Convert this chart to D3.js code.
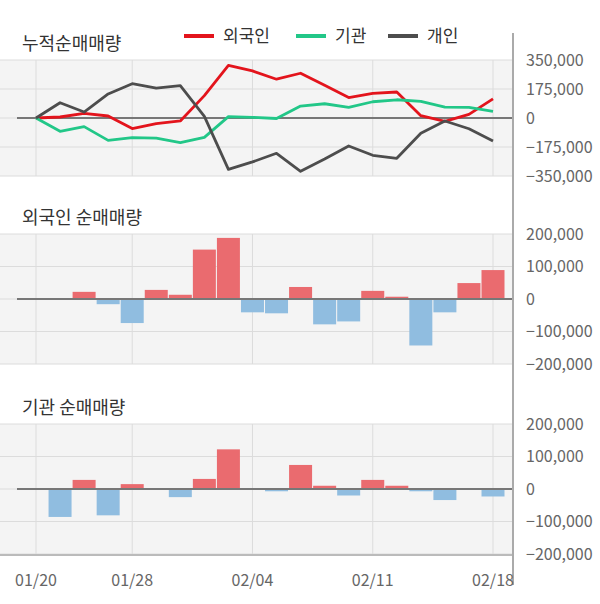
<!DOCTYPE html>
<html>
<head>
<meta charset="utf-8">
<script src="https://cdn.jsdelivr.net/npm/d3@7"></script>
<style>
  body { margin: 0; background: #fff; }
  text { font-family: "Noto Sans CJK KR", "Noto Sans", sans-serif; }
</style>
</head>
<body>
<svg width="600" height="604"></svg>
<script>
// trading days
var dates = ['01/20','01/21','01/22','01/23','01/28','01/29','01/30','01/31','02/03','02/04',
             '02/05','02/06','02/07','02/10','02/11','02/12','02/13','02/14','02/17','02/18'];
var tick_dates = ['01/20','01/28','02/04','02/11','02/18'];

// cumulative net buying (shares)
var cum_foreign = [0, 6000, 28000, 12000, -64000, -34000, -18000, 135000, 318000, 284000,
                   234000, 270000, 197000, 123000, 149000, 157000, 14000, -20000, 22000, 115000];
var cum_inst = [0, -80000, -52000, -135000, -118000, -122000, -149000, -117000, 8000, 4000,
                -3000, 72000, 86000, 64000, 98000, 110000, 100000, 66000, 64000, 40000];
var cum_indiv = [0, 92000, 36000, 145000, 207000, 180000, 195000, 10000, -310000, -265000,
                 -213000, -322000, -248000, -169000, -225000, -243000, -92000, -18000, -65000, -139000];

// daily net buying
var day_foreign = [0, 0, 22000, -16000, -74000, 28000, 13000, 152000, 188000, -41000,
                   -44000, 37000, -78000, -69000, 25000, 7000, -143000, -41000, 49000, 89000];
var day_inst = [0, -86000, 28000, -81000, 15000, 0, -25000, 31000, 122000, 0,
                -7000, 74000, 10000, -20000, 28000, 10000, -7000, -34000, 0, -23000];

var ticks_cum = [350000, 175000, 0, -175000, -350000];
var ticks_day = [200000, 100000, 0, -100000, -200000];

var series = [
    {name: '외국인', color: '#e3141c', values: cum_foreign},
    {name: '기관', color: '#22c788', values: cum_inst},
    {name: '개인', color: '#4d4d4d', values: cum_indiv}
];

var svg = d3.select('svg');
var plot_right = 513;
var fmt = d3.format(',');

var x = d3.scalePoint().domain(dates).range([36, 493]);

function panel(top, bottom, max, ticks, title){
    var y = d3.scaleLinear().domain([-max, max]).range([bottom, top]);
    var g = svg.append('g');

    g.append('rect')
        .attr('x', 0).attr('y', top)
        .attr('width', plot_right).attr('height', bottom - top)
        .attr('fill', '#f4f4f4');

    g.selectAll('.hgrid').data(ticks).enter()
        .append('line')
            .attr('x1', 0).attr('x2', plot_right)
            .attr('y1', function(d){ return y(d); })
            .attr('y2', function(d){ return y(d); })
            .attr('stroke', '#dcdcdc').attr('stroke-width', 1);

    g.selectAll('.vgrid').data(tick_dates).enter()
        .append('line')
            .attr('x1', function(d){ return x(d); })
            .attr('x2', function(d){ return x(d); })
            .attr('y1', top).attr('y2', bottom)
            .attr('stroke', '#dcdcdc').attr('stroke-width', 1);

    g.selectAll('.ylab').data(ticks).enter()
        .append('text')
            .attr('x', 526)
            .attr('y', function(d){ return y(d); })
            .attr('dy', '0.35em')
            .attr('fill', '#666')
            .style('font-size', '16px')
            .text(function(d){ return fmt(d); });

    g.append('text')
        .attr('x', 22).attr('y', top - 16)
        .attr('dy', '0.35em')
        .attr('fill', '#333')
        .style('font-size', '18px')
        .text(title);

    return {g: g, y: y};
}

function zero_line(p){
    p.g.append('line')
        .attr('x1', 17).attr('x2', plot_right)
        .attr('y1', p.y(0)).attr('y2', p.y(0))
        .attr('stroke', '#777').attr('stroke-width', 2);
}

function bars(p, values){
    p.g.selectAll('.bar').data(values).enter()
        .append('rect')
            .attr('x', function(d, i){ return x(dates[i]) - 11.5; })
            .attr('width', 23)
            .attr('y', function(d){ return p.y(Math.max(0, d)); })
            .attr('height', function(d){ return Math.abs(p.y(d) - p.y(0)); })
            .attr('fill', function(d){ return d >= 0 ? '#ea6b6f' : '#90bde0'; });
    zero_line(p);
}

// top: cumulative lines
var p1 = panel(60, 176, 350000, ticks_cum, '누적순매매량');
zero_line(p1);
var line = d3.line()
    .x(function(d, i){ return x(dates[i]); })
    .y(function(d){ return p1.y(d); });
p1.g.selectAll('.series').data(series).enter()
    .append('path')
        .attr('d', function(s){ return line(s.values); })
        .attr('fill', 'none')
        .attr('stroke', function(s){ return s.color; })
        .attr('stroke-width', 2.8)
        .attr('stroke-linejoin', 'round');

// legend
var legend_x = [184, 296, 388];
var leg = svg.selectAll('.legend').data(series).enter()
    .append('g')
        .attr('transform', function(d, i){ return 'translate(' + legend_x[i] + ',36)'; });
leg.append('line')
    .attr('x1', 0).attr('x2', 30)
    .attr('stroke', function(d){ return d.color; })
    .attr('stroke-width', 4);
leg.append('text')
    .attr('x', 39).attr('dy', '0.35em')
    .attr('fill', '#333')
    .style('font-size', '17px')
    .text(function(d){ return d.name; });

// middle and bottom: daily bars
var p2 = panel(234, 364, 200000, ticks_day, '외국인 순매매량');
bars(p2, day_foreign);
var p3 = panel(424, 554, 200000, ticks_day, '기관 순매매량');
bars(p3, day_inst);

svg.append('line')
    .attr('x1', 0).attr('x2', plot_right)
    .attr('y1', 555).attr('y2', 555)
    .attr('stroke', '#bbb').attr('stroke-width', 2);

// right axis
svg.append('line')
    .attr('x1', plot_right).attr('x2', plot_right)
    .attr('y1', 33).attr('y2', 585)
    .attr('stroke', '#aaa').attr('stroke-width', 2);

// date labels
svg.selectAll('.xlab').data(tick_dates).enter()
    .append('text')
        .attr('x', function(d){ return x(d); })
        .attr('y', 580)
        .attr('dy', '0.35em')
        .attr('text-anchor', 'middle')
        .attr('fill', '#666')
        .style('font-size', '16px')
        .text(function(d){ return d; });
</script>
</body>
</html>
